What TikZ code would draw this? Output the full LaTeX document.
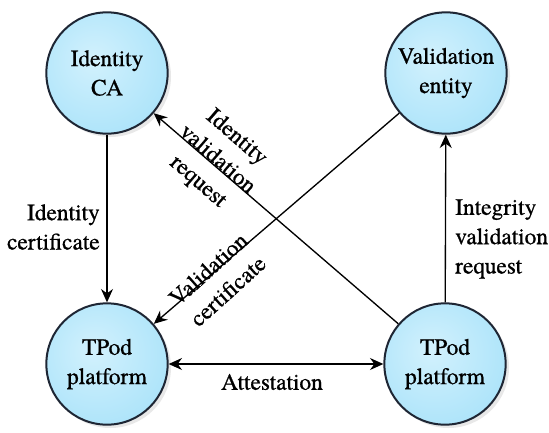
\documentclass[tikz,border=0pt]{standalone}
\usepackage{fontspec}
\newfontfamily\diagfont{texgyretermes}[Extension=.otf, UprightFont=*-regular, BoldFont=*-bold, FakeBold=0.8]
\usetikzlibrary{arrows.meta,shadows}

\definecolor{nodelight}{RGB}{210,241,253}
\definecolor{nodemid}{RGB}{176,229,250}
\definecolor{nodedark}{RGB}{128,206,240}
\definecolor{nodeline}{RGB}{30,38,52}
\pgfdeclareradialshading{entityshade}{\pgfpoint{-6bp}{6bp}}{color(0bp)=(nodelight); color(28bp)=(nodemid); color(50bp)=(nodedark); color(70bp)=(nodedark)}

\tikzset{
  entity/.style={circle, draw=nodeline, line width=1.5pt, minimum size=91pt, inner sep=0pt, align=center,
    shading=entityshade,
    drop shadow={opacity=0.18, shadow xshift=2.5pt, shadow yshift=-2.5pt},
    font=\diagfont\fontsize{17.5}{22}\selectfont},
  conn/.style={line width=1pt, -{Stealth[length=10pt,width=9pt]}},
  biconn/.style={line width=1pt, {Stealth[length=10pt,width=9pt]}-{Stealth[length=10pt,width=9pt]}},
  lbl/.style={font=\diagfont\fontsize{17.5}{22}\selectfont, inner sep=0.75pt}
}

\begin{document}
\begin{tikzpicture}[x=0.75pt,y=0.75pt,yscale=-1,xscale=1]
	\useasboundingbox (0,0) rectangle (549,432);

	% Entity Nodes
	\node [entity] (idca) at (107,73) {Identity\\CA};
	\node [entity] (valent) at (446,73) {Validation\\entity};
	\node [entity] (tpod1) at (107,364) {TPod\\platform};
	\node [entity] (tpod2) at (445,364) {TPod\\platform};

	% Connection
	\draw [conn] (idca) -- (tpod1);
	% Connection
	\draw [conn] (tpod2) -- (valent);
	% Connection
	\draw [conn] (tpod2) -- (idca);
	% Connection
	\draw [conn] (valent) -- (tpod1);
	% Connection
	\draw [biconn] (tpod1) -- (tpod2);

	% Text Node
	\node [lbl, anchor=east, align=right] (lblidcert) at (101,227) {Identity\\certificate};
	% Text Node
	\node [lbl, anchor=west, align=left] (lblintreq) at (454,239) {Integrity\\validation\\request};
	% Text Node
	\node [lbl] (lblattest) at (272,382) {Attestation};
	% Text Node
	\node [lbl, align=center, rotate=-41] (lblidreq) at (217,160) {Identity\\validation\\request};
	% Text Node
	\node [lbl, align=center, rotate=42] (lblvalcert) at (218,280) {Validation\\certificate};

\end{tikzpicture}
\end{document}
